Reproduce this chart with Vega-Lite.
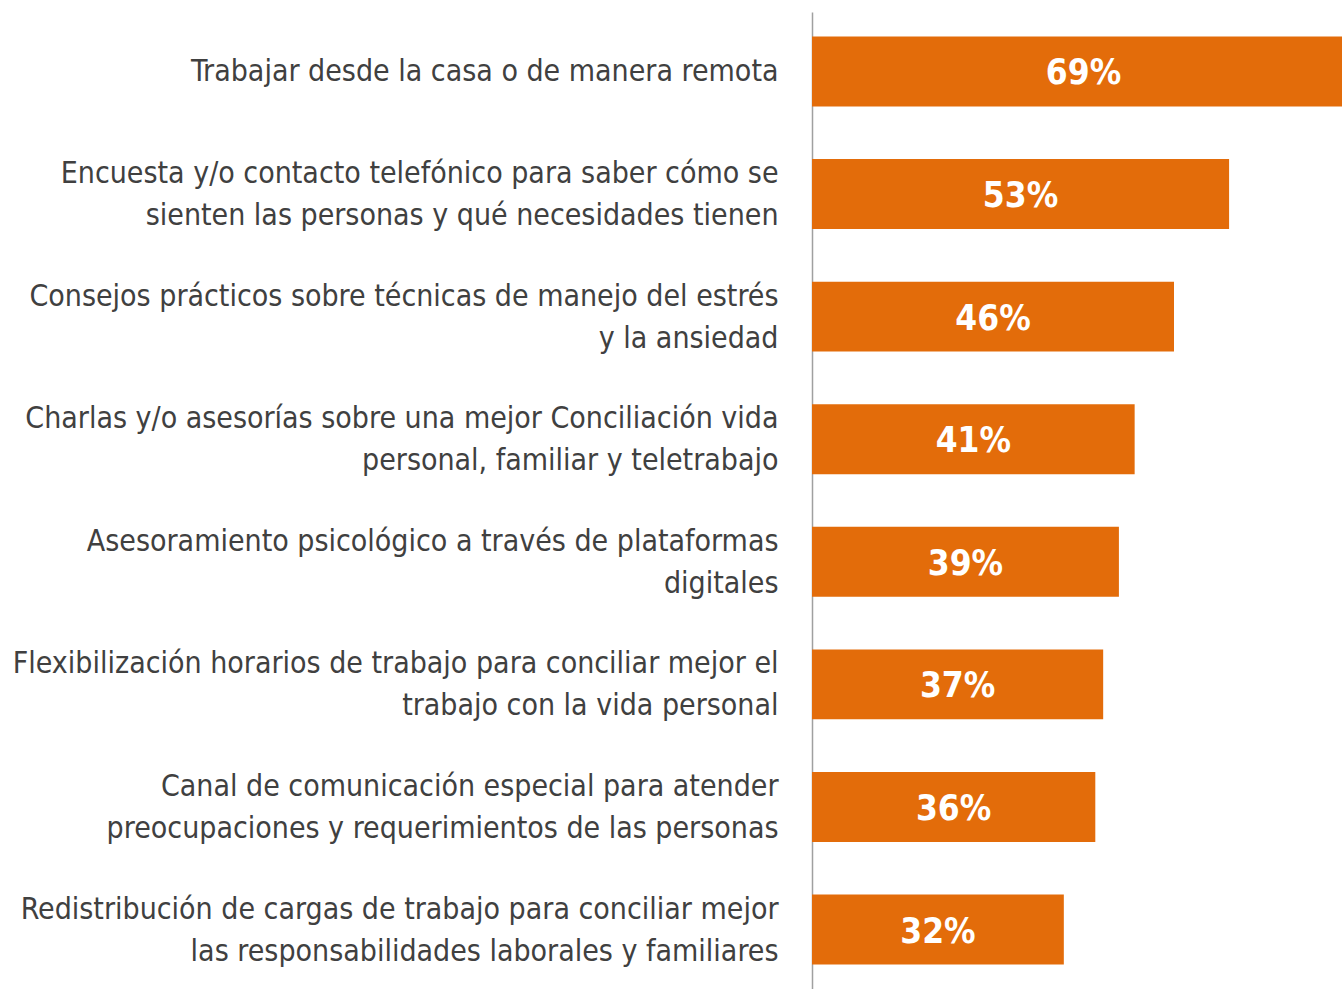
{
  "$schema": "https://vega.github.io/schema/vega-lite/v6.json",
  "autosize": "none",
  "padding": {"left": 812, "top": 12, "right": 0, "bottom": 0},
  "width": 543,
  "height": 977,
  "background": "white",
  "config": {"view": {"stroke": null}, "font": "DejaVu Sans Condensed"},
  "data": {"values": [
    {"label": "Trabajar desde la casa o de manera remota", "value": 0.69},
    {"label": "Encuesta y/o contacto telefónico para saber cómo se|sienten las personas y qué necesidades tienen", "value": 0.53},
    {"label": "Consejos prácticos sobre técnicas de manejo del estrés|y la ansiedad", "value": 0.46},
    {"label": "Charlas y/o asesorías sobre una mejor Conciliación vida|personal, familiar y teletrabajo", "value": 0.41},
    {"label": "Asesoramiento psicológico a través de plataformas|digitales", "value": 0.39},
    {"label": "Flexibilización horarios de trabajo para conciliar mejor el|trabajo con la vida personal", "value": 0.37},
    {"label": "Canal de comunicación especial para atender|preocupaciones y requerimientos de las personas", "value": 0.36},
    {"label": "Redistribución de cargas de trabajo para conciliar mejor|las responsabilidades laborales y familiares", "value": 0.32}
  ]},
  "transform": [{"calculate": "datum.value / 2", "as": "mid"}],
  "encoding": {
    "y": {
      "field": "label", "type": "nominal", "sort": null,
      "scale": {"paddingInner": 0.43, "paddingOuter": 0.2},
      "axis": {
        "title": null, "ticks": false, "labelExpr": "split(datum.label, '|')",
        "labelAlign": "right", "labelPadding": 34, "labelFontSize": 30,
        "labelLineHeight": 42, "labelColor": "#404040", "labelLimit": 0,
        "labelFont": "DejaVu Sans Condensed",
        "labelOffset": {"condition": {"test": "indexof(datum.label, '|') >= 0", "value": -20}, "value": 1},
        "domainColor": "#a0a0a0", "domainWidth": 1.5, "grid": false
      }
    }
  },
  "layer": [
    {
      "mark": {"type": "bar", "color": "#E36C0A"},
      "encoding": {
        "x": {"field": "value", "type": "quantitative", "scale": {"domain": [0, 0.69], "nice": false}, "axis": null}
      }
    },
    {
      "mark": {"type": "text", "color": "white", "fontSize": 35, "fontWeight": "bold", "font": "DejaVu Sans Condensed", "baseline": "middle", "align": "center", "dy": 2},
      "encoding": {
        "x": {"field": "mid", "type": "quantitative"},
        "text": {"field": "value", "type": "quantitative", "format": ".0%"}
      }
    }
  ]
}
